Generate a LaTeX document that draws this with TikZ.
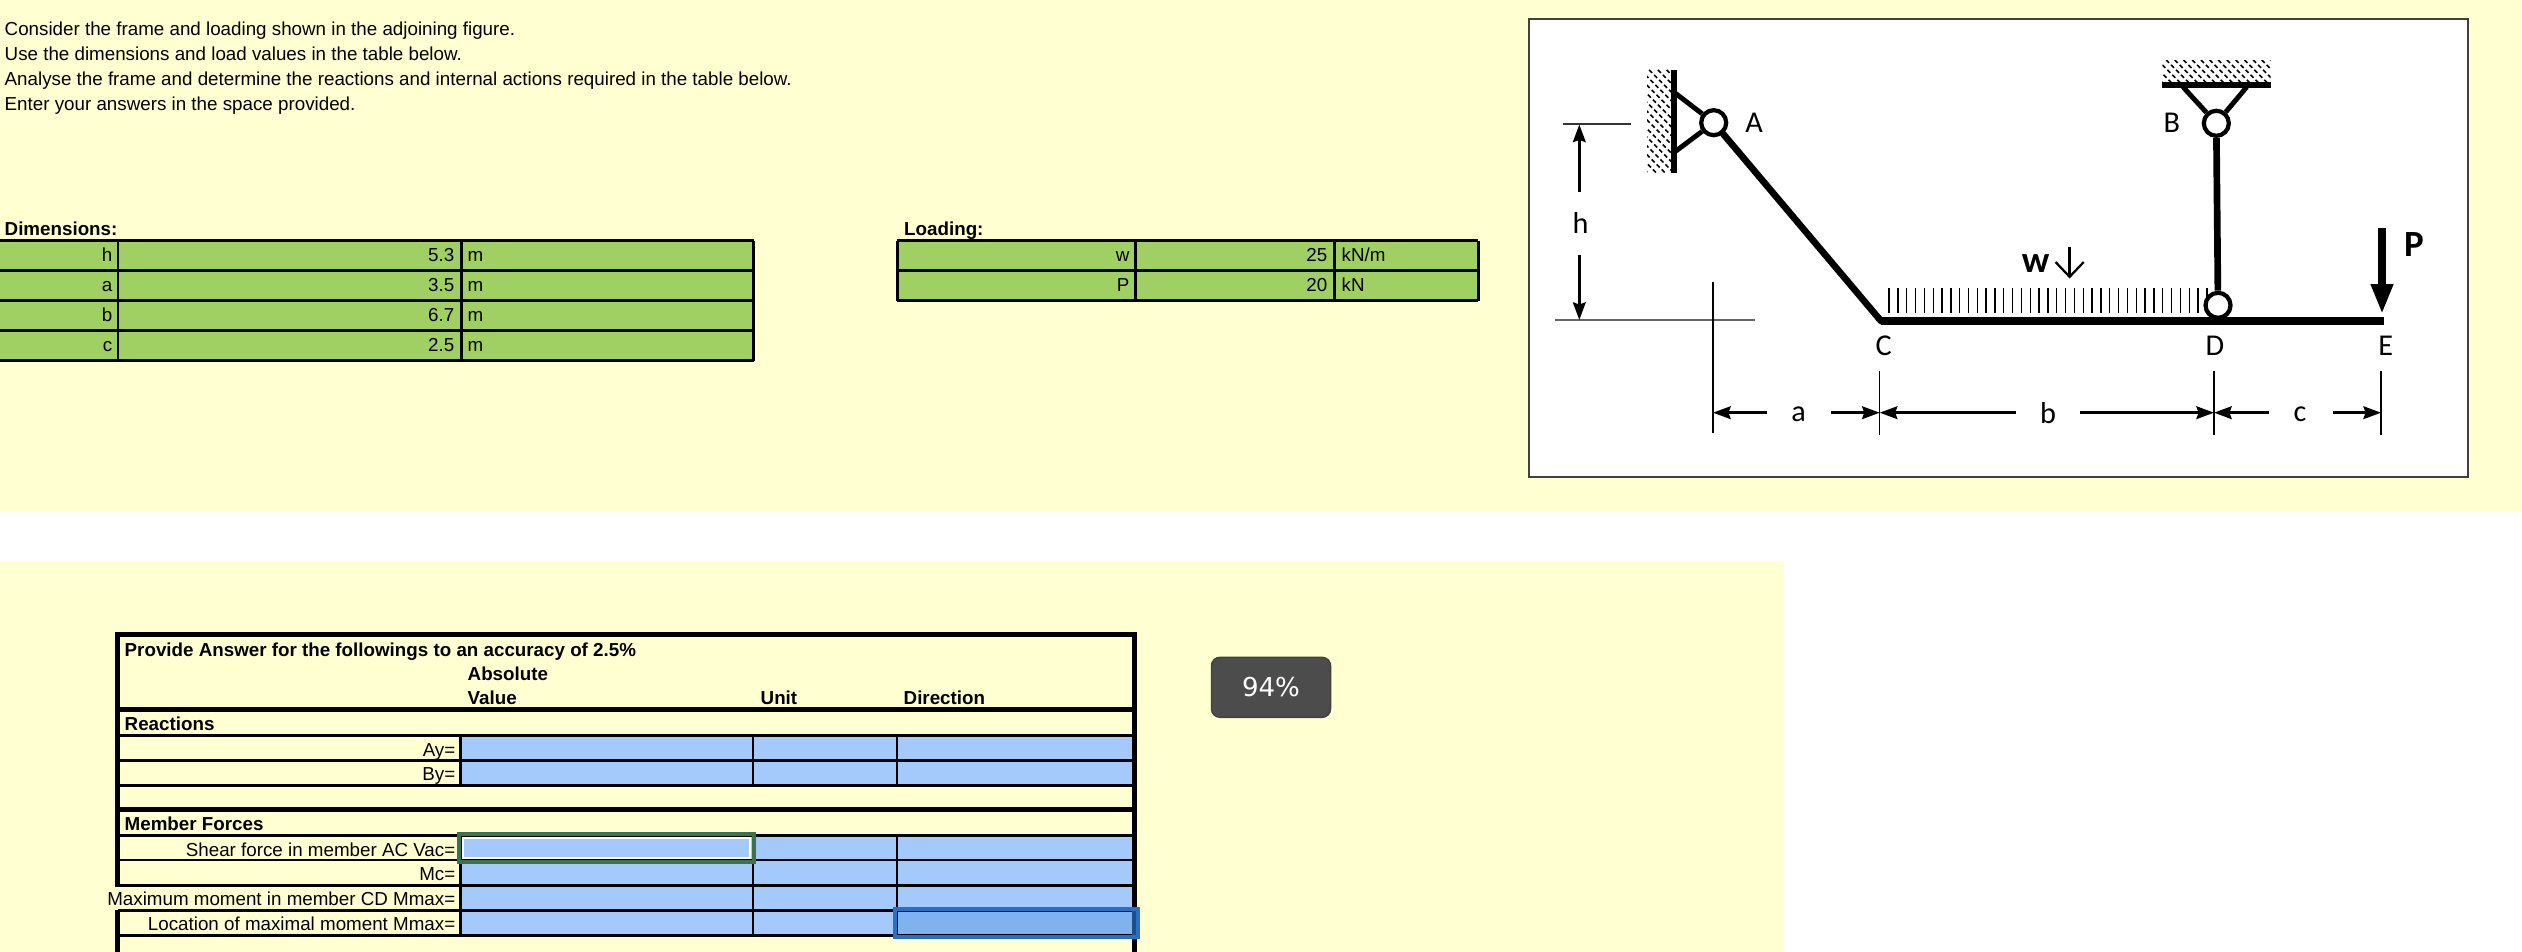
\documentclass[tikz,border=0pt]{standalone}
\usepackage{fontspec}
\setmainfont{Liberation Sans}
\newfontfamily\figfont{Carlito}
\newfontfamily\badgefont{DejaVu Sans}
\usetikzlibrary{arrows.meta}
\definecolor{sheetbg}{HTML}{FFFFD2}
\definecolor{datagreen}{HTML}{A0CF63}
\definecolor{answerblue}{HTML}{A4C9FB}
\definecolor{pickblue}{HTML}{80B2EE}
\definecolor{pickedge}{HTML}{2B6FC4}
\definecolor{activegreen}{HTML}{3B7350}
\newcommand{\cellfont}{\fontsize{5.34}{6}\selectfont}
\newcommand{\figlabel}{\fontsize{8.6}{10}\selectfont\figfont}
\newcommand{\figbold}{\fontsize{10.5}{12}\selectfont\figfont\bfseries}
\tikzset{
  txt/.style={inner sep=0pt,anchor=base west,font=\cellfont},
  txtbold/.style={txt,font=\cellfont\bfseries},
  txtright/.style={inner sep=0pt,anchor=base east,font=\cellfont},
  figtxt/.style={inner sep=0pt,anchor=center,font=\figlabel},
  rule/.style={line width=0.85pt,black},
  cellrule/.style={line width=0.7pt,black},
  heavyrule/.style={line width=1.3pt,black},
  pin/.style={circle,draw=black,fill=white,line width=1.2pt,inner sep=0pt,minimum size=25*0.2845pt},
  member/.style={line width=1.9pt,black},
  brace/.style={line width=1.4pt,black},
  dimline/.style={line width=0.8pt,black,-{Stealth[length=5pt,width=3.6pt,inset=0.6pt]}},
  witness/.style={line width=0.4pt,black},
  hatch/.style={line width=0.45pt,black,dash pattern=on 1.2pt off 0.8pt},
}
\begin{document}
\begin{tikzpicture}[x=0.01cm,y=-0.01cm]
  \useasboundingbox (0,0) rectangle (2522,952);
  \fill[sheetbg] (0,0) rectangle (2522,511);
  \fill[sheetbg] (0,561) rectangle (1784,952);

  % instructions
  \node[txt] (line1) at (4,36) {Consider the frame and loading shown in the adjoining figure.};
  \node[txt] (line2) at (4,61) {Use the dimensions and load values in the table below.};
  \node[txt] (line3) at (4,86) {Analyse the frame and determine the reactions and internal actions required in the table below.};
  \node[txt] (line4) at (4,111) {Enter your answers in the space provided.};

  % dimensions
  \node[txtbold] (dimhead) at (4,236) {Dimensions:};
  \fill[datagreen] (0,240.7) rectangle (753.5,360.7);
  \foreach \ya in {240.7,270.7,300.7,330.7,360.7}
    \draw[rule] (0,\ya)--(753.5,\ya);
  \foreach \xa in {118,461,753.5}
    \draw[rule] (\xa,240.7)--(\xa,360.7);
  \foreach \ya/\lab/\val in {262/h/5.3,292/a/3.5,322/b/6.7,352/c/2.5} {
    \node[txtright] (dim\lab) at (113,\ya) {\lab};
    \node[txtright] (val\lab) at (455,\ya) {\val};
    \node[txt] (unit\lab) at (467,\ya) {m};
  }

  % loading
  \node[txtbold] (loadhead) at (903.5,236) {Loading:};
  \fill[datagreen] (897,240.7) rectangle (1478,300.7);
  \foreach \ya in {240.7,270.7,300.7}
    \draw[rule] (897,\ya)--(1478,\ya);
  \foreach \xa in {897,1135.5,1334,1478}
    \draw[rule] (\xa,240.7)--(\xa,300.7);
  \node[txtright] (loadw) at (1130,262) {w};
  \node[txtright] (valw) at (1328,262) {25};
  \node[txt] (unitw) at (1341,262) {kN/m};
  \node[txtright] (loadP) at (1130,292) {P};
  \node[txtright] (valP) at (1328,292) {20};
  \node[txt] (unitP) at (1341,292) {kN};

  % figure
  \draw[line width=0.55pt,black!75,fill=white] (1529,19.3) rectangle (2467.7,476.7);
  \begin{scope}
    \clip (1647,70) rectangle (1671,172.7);
    \foreach \xa in {1500,1508.7,...,1680}
      \draw[hatch] (\xa,60)--(\xa+120,180);
  \end{scope}
  \begin{scope}
    \clip (2162.3,60.7) rectangle (2270.7,82);
    \foreach \xa in {2130,2138.7,...,2280}
      \draw[hatch] (\xa,50)--(\xa+40,90);
  \end{scope}
  \coordinate (wallAtop) at (1674,70);
  \coordinate (wallAbot) at (1674,172.7);
  \coordinate (wallBl) at (2162.3,85);
  \coordinate (wallBr) at (2270.7,85);
  \coordinate (braceA1) at (1675,93);
  \coordinate (braceA2) at (1675,151.7);
  \coordinate (braceB1) at (2183,87);
  \coordinate (braceB2) at (2246.7,87);
  \coordinate (C) at (1881,321);
  \coordinate (E) at (2383.5,321);
  \draw[member] (wallAtop)--(wallAbot);
  \draw[member] (wallBl)--(wallBr);
  \node[pin] (A) at (1713.7,122.7) {};
  \node[pin] (B) at (2216.3,123.3) {};
  \node[pin] (D) at (2218,305.3) {};
  \draw[brace] (braceA1)--(A);
  \draw[brace] (braceA2)--(A);
  \draw[brace] (braceB1)--(B);
  \draw[brace] (braceB2)--(B);
  \draw[member,line cap=round] (A)--(C);
  \draw[member] (B)--(D);
  \draw[line width=2.1pt,black] (C)--(E);
  \foreach \i in {0,...,36}
    \draw[line width=0.38pt,black] ({1889+8.83*\i},287.7)--({1889+8.83*\i},313);
  \node[figtxt] (labA) at (1754,123) {A};
  \node[figtxt] (labB) at (2171.7,123.3) {B};
  \node[figtxt] (labC) at (1883.6,345.7) {C};
  \node[figtxt] (labD) at (2215,345.7) {D};
  \node[figtxt] (labE) at (2385.7,345.7) {E};
  \node[figtxt,font=\figbold] (labw) at (2035.5,264) {w};
  \coordinate (wtop) at (2069.6,247);
  \coordinate (wtip) at (2069.6,278.5);
  \draw[line width=0.65pt,-{Straight Barb[length=4.2pt,width=8pt]}] (wtop)--(wtip);
  \node[figtxt,font=\figbold] (labP) at (2414,245) {P};
  \coordinate (Ptop) at (2382,228);
  \coordinate (Ptip) at (2382,314);
  \draw[line width=2.1pt,-{Triangle[length=8.5pt,width=5.9pt]}] (Ptop)--(Ptip);

  % dimension lines
  \coordinate (htop) at (1579.3,124.5);
  \coordinate (hbot) at (1579.3,320);
  \draw[line width=0.5pt,black!80] (1562.7,124.3)--(1631,124.3);
  \draw[line width=0.6pt,black!60] (1555,320.3)--(1754.7,320.3);
  \draw[witness] (1713,281.7)--(1713,433);
  \draw[witness] (1879.7,371)--(1879.7,435);
  \draw[witness] (2214,371)--(2214,435);
  \draw[witness] (2381,371)--(2381,435);
  \node[figtxt] (labh) at (1580.6,223) {h};
  \node[figtxt] (laba) at (1798.7,414) {a};
  \node[figtxt] (labb) at (2048,412.7) {b};
  \node[figtxt] (labc) at (2300,414) {c};
  \draw[dimline] (1579.3,192)--(htop);
  \draw[dimline] (1579.3,255)--(hbot);
  \draw[dimline] (1767.4,412.7)--(1713,412.7);
  \draw[dimline] (1831,412.7)--(1879.7,412.7);
  \draw[dimline] (2016,412.7)--(1879.7,412.7);
  \draw[dimline] (2080,412.7)--(2214,412.7);
  \draw[dimline] (2268.7,412.7)--(2214,412.7);
  \draw[dimline] (2332.5,412.7)--(2381,412.7);

  % answers
  \fill[answerblue] (460.4,735.3) rectangle (1134.3,785.3);
  \fill[answerblue] (460.4,835.3) rectangle (1134.3,935.3);
  \fill[pickblue] (897,910.7) rectangle (1134.3,935.3);
  \foreach \ya in {735.3,760.3,785.3,835.3,860,885.7,910.7,935.3}
    \draw[cellrule] (117.5,\ya)--(1134.3,\ya);
  \foreach \xa in {460.4,753,897} {
    \draw[cellrule] (\xa,735.3)--(\xa,785.3);
    \draw[cellrule] (\xa,835.3)--(\xa,935.3);
  }
  \foreach \ya in {634.7,709.3,809.3}
    \draw[heavyrule] (115,\ya)--(1136.8,\ya);
  \draw[line width=1.45pt] (117.5,633)--(117.5,887);
  \draw[line width=1.45pt] (117.5,909.5)--(117.5,952);
  \draw[line width=1.45pt] (1134.3,633)--(1134.3,952);
  \node[txtbold] (answerhead) at (124,656) {Provide Answer for the followings to an accuracy of 2.5\%};
  \node[txtbold] (abshead) at (467,680.7) {Absolute};
  \node[txtbold] (valhead) at (467,704.7) {Value};
  \node[txtbold] (unithead) at (760,704.7) {Unit};
  \node[txtbold] (dirhead) at (903,704.7) {Direction};
  \node[txtbold] (reacthead) at (124,730.7) {Reactions};
  \node[txtright] (Ay) at (456,756) {Ay=};
  \node[txtright] (By) at (456,780.7) {By=};
  \node[txtbold] (memberhead) at (124,830.7) {Member Forces};
  \node[txtright] (Vac) at (456,856) {Shear force in member AC Vac=};
  \node[txtright] (Mc) at (456,880.7) {Mc=};
  \node[txtright] (Mmax) at (456,905.7) {Maximum moment in member CD Mmax=};
  \node[txtright] (Loc) at (456,930.7) {Location of maximal moment Mmax=};

  % active cells
  \draw[line width=0.6pt,white] (463,838) rectangle (750,858);
  \draw[line width=1.15pt,activegreen] (459,834) rectangle (754,861.7);
  \draw[line width=1.2pt,pickedge] (895,908.7) rectangle (1138,937);
  \fill[pickedge!70!black] (1131.8,910.7) rectangle (1136,935.3);

  % score
  \node[draw=black!75,fill=black!70,rounded corners=2.4pt,minimum width=119*0.2845pt,minimum height=60*0.2845pt,inner sep=0pt,line width=0.4pt,text=white,font=\badgefont\fontsize{7.4}{8}\selectfont] (score) at (1271,687.3) {94\%};
\end{tikzpicture}
\end{document}
